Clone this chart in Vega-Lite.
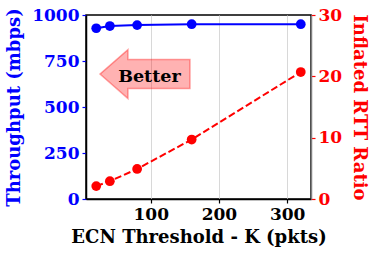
{
  "$schema": "https://vega.github.io/schema/vega-lite/v6.json",
  "width": 225,
  "height": 184,
  "autosize": {"type": "none"},
  "padding": {"left": 86, "top": 15, "right": 63, "bottom": 61},
  "background": "white",
  "config": {
    "view": {"stroke": "black", "strokeWidth": 1.5},
    "font": "DejaVu Serif",
    "axis": {
      "labelFont": "DejaVu Serif",
      "titleFont": "DejaVu Serif",
      "labelFontSize": 17,
      "titleFontSize": 18,
      "labelFontWeight": "bold",
      "titleFontWeight": "bold",
      "tickSize": 4,
      "labelPadding": 3,
      "domainWidth": 1.5,
      "tickWidth": 1.2
    }
  },
  "datasets": {
    "tput": [
      {"k": 20, "throughput": 928},
      {"k": 40, "throughput": 940},
      {"k": 80, "throughput": 945},
      {"k": 160, "throughput": 950},
      {"k": 320, "throughput": 950}
    ],
    "rtt": [
      {"k": 20, "ratio": 2.1},
      {"k": 40, "ratio": 2.9},
      {"k": 80, "ratio": 4.9},
      {"k": 160, "ratio": 9.7},
      {"k": 320, "ratio": 20.7}
    ],
    "note": [
      {"ax": 91.5, "ay": 679, "tx": 98, "ty": 636, "label": "Better"}
    ]
  },
  "encoding": {
    "x": {
      "field": "k",
      "type": "quantitative",
      "scale": {"domain": [5, 335], "nice": false, "zero": false},
      "axis": {
        "values": [100, 200, 300],
        "title": "ECN Threshold - K (pkts)",
        "titleColor": "black",
        "labelColor": "black",
        "grid": true,
        "gridColor": "#d8d8d8",
        "gridWidth": 1,
        "domainColor": "black",
        "tickColor": "black",
        "titlePadding": 6
      }
    }
  },
  "layer": [
    {
      "layer": [
        {
          "data": {"name": "tput"},
          "mark": {"type": "line", "color": "#0000ff", "strokeWidth": 2},
          "encoding": {
            "y": {
              "field": "throughput",
              "type": "quantitative",
              "scale": {"domain": [0, 1000], "nice": false},
              "axis": {
                "orient": "left",
                "values": [0, 250, 500, 750, 1000],
                "format": "d",
                "title": "Throughput (mbps)",
                "titleColor": "#0000ff",
                "labelColor": "#0000ff",
                "tickColor": "#0000ff",
                "domainColor": "black",
                "grid": false,
                "titlePadding": 8
              }
            }
          }
        },
        {
          "data": {"name": "tput"},
          "mark": {"type": "point", "filled": true, "shape": "circle", "size": 95, "color": "#0000ff", "opacity": 1},
          "encoding": {
            "y": {"field": "throughput", "type": "quantitative"}
          }
        },
        {
          "data": {"name": "note"},
          "mark": {
            "type": "point",
            "shape": "M -1 0 L -0.378 -0.544 L -0.378 -0.322 L 1 -0.322 L 1 0.322 L -0.378 0.322 L -0.378 0.544 Z",
            "size": 8100,
            "filled": true,
            "fill": "#ff0000",
            "fillOpacity": 0.3,
            "stroke": "#ff0000",
            "strokeOpacity": 0.35,
            "strokeWidth": 1.5,
            "opacity": 1
          },
          "encoding": {
            "x": {"field": "ax", "type": "quantitative"},
            "y": {"field": "ay", "type": "quantitative"}
          }
        },
        {
          "data": {"name": "note"},
          "mark": {
            "type": "text",
            "font": "DejaVu Serif",
            "fontSize": 17.5,
            "fontWeight": "bold",
            "color": "black",
            "align": "center",
            "baseline": "alphabetic"
          },
          "encoding": {
            "x": {"field": "tx", "type": "quantitative"},
            "y": {"field": "ty", "type": "quantitative"},
            "text": {"field": "label"}
          }
        }
      ]
    },
    {
      "layer": [
        {
          "data": {"name": "rtt"},
          "mark": {"type": "line", "color": "#ff0000", "strokeWidth": 2, "strokeDash": [7, 3]},
          "encoding": {
            "y": {
              "field": "ratio",
              "type": "quantitative",
              "scale": {"domain": [0, 30], "nice": false},
              "axis": {
                "orient": "right",
                "values": [0, 10, 20, 30],
                "title": "Inflated RTT Ratio",
                "titleColor": "#ff0000",
                "labelColor": "#ff0000",
                "tickColor": "#ff0000",
                "domainColor": "#808080",
                "grid": false,
                "titlePadding": 8
              }
            }
          }
        },
        {
          "data": {"name": "rtt"},
          "mark": {"type": "point", "filled": true, "shape": "circle", "size": 95, "color": "#ff0000", "opacity": 1},
          "encoding": {
            "y": {"field": "ratio", "type": "quantitative"}
          }
        }
      ]
    }
  ],
  "resolve": {"scale": {"y": "independent"}}
}
